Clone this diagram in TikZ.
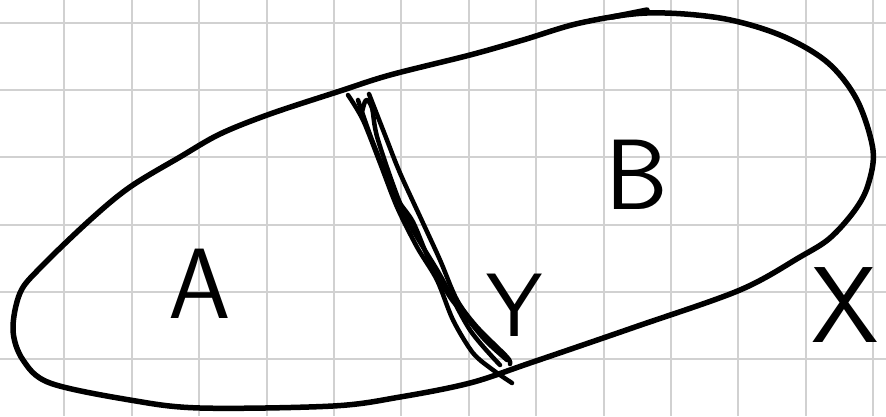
\documentclass[tikz,border=0pt]{standalone}
\usepackage{fontspec}
\begin{document}
\begin{tikzpicture}[x=1pt,y=-1pt,
  gridline/.style={draw=black!18,line width=2pt},
  ink/.style={draw=black,line width=5.5pt,line cap=round,line join=round},
  thinink/.style={draw=black,line width=4.5pt,line cap=round,line join=round},
  letter/.style={inner sep=0pt,font=\sffamily\fontsize{100}{100}\selectfont}]
\useasboundingbox[fill=white] (0,0) rectangle (886,416);
% grid
\foreach \k in {0,...,12} {\draw[gridline] ({64.3+67.4*\k},0) -- ({64.3+67.4*\k},416);}
\foreach \k in {0,...,5} {\draw[gridline] (0,{22.7+67.3*\k}) -- (886,{22.7+67.3*\k});}
% outline
\draw[ink] plot[smooth cycle,tension=0.55] coordinates {
 (580,23) (647,13) (720,18) (780,35) (827,62) (857,100) (873,150) (868,185)
 (855,210) (830,238) (800,257) (740,290) (635,327) (530,363) (470,383)
 (400,397) (333,406) (200,408) (130,400) (50,383) (23,360) (13,330) (20,293)
 (40,268) (90,220) (130,187) (180,157) (220,134) (270,114) (340,91) (390,75)
 (470,55) (523,40)};
\draw[ink] (612,17) -- (647,10);
% dividing strokes
\draw[thinink] plot[smooth,tension=0.5] coordinates {(348,95) (363,120) (380,163) (397,207) (417,247) (437,280) (453,320) (473,353) (493,370) (512,383)};
\draw[thinink] plot[smooth,tension=0.5] coordinates {(369,94) (385,135) (400,173) (423,223) (440,260) (457,300) (477,327) (507,357) (510,364)};
\draw[thinink] plot[smooth,tension=0.5] coordinates {(358,100) (372,140) (395,195) (413,222) (430,262) (450,297) (463,313) (485,340) (507,360)};
\draw[thinink] plot[smooth,tension=0.5] coordinates {(362,112) (366,100) (372,108) (378,140) (405,215) (440,275) (470,330) (500,365)};
% labels
\node[letter] (A) at (200,284) {A};
\node[letter] (B) at (637,175) {B};
\node[letter,font=\sffamily\fontsize{90}{90}\selectfont] (Y) at (515,305) {Y};
\node[letter,font=\sffamily\fontsize{108}{108}\selectfont] (X) at (845,305) {X};
\end{tikzpicture}
\end{document}
